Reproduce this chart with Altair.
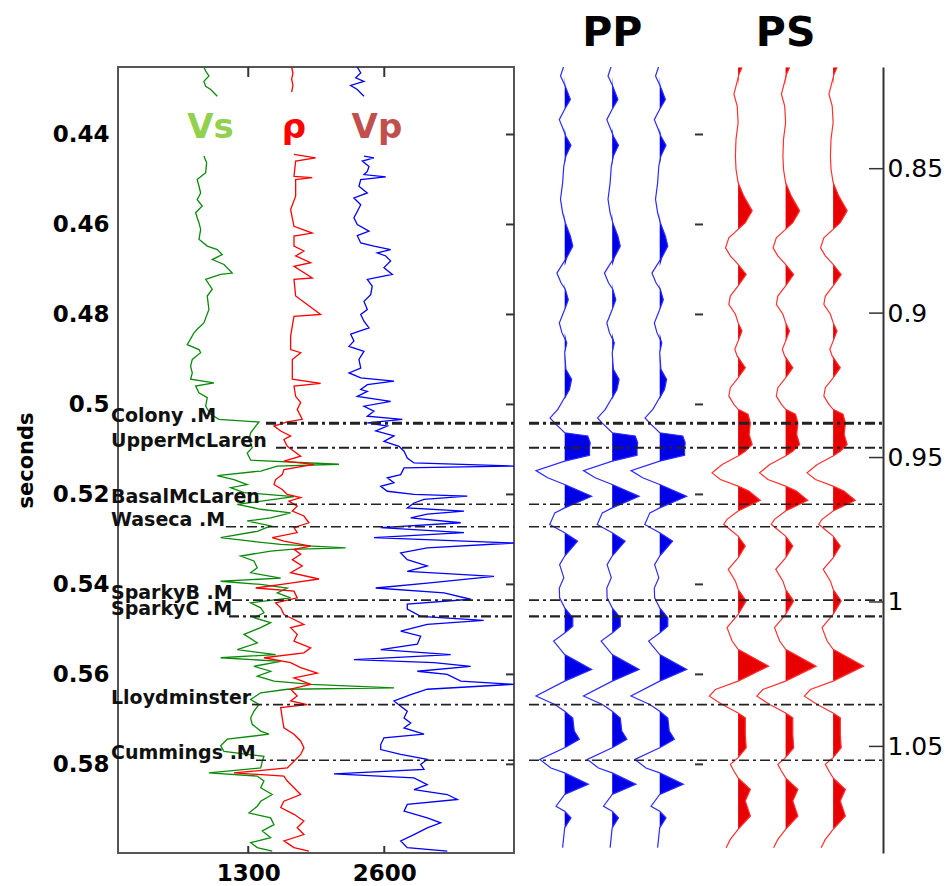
import altair as alt
import pandas as pd

# ---------------- well logs: (two-way time s, plotted value) ----------------
VS_TOP = [(0.4250, 876), (0.4259, 893), (0.4270, 924), (0.4282, 876), (0.4293, 893),
          (0.4300, 941), (0.4315, 1004)]
RHO_TOP = [(0.4250, 1715), (0.4264, 1727), (0.4277, 1715), (0.4291, 1727), (0.4306, 1715)]
VP_TOP = [(0.4250, 2342), (0.4263, 2375), (0.4274, 2327), (0.4282, 2406), (0.4291, 2279),
          (0.4300, 2342), (0.4315, 2406)]

VS = [(0.4448, 876), (0.4463, 902), (0.4485, 893), (0.4500, 812), (0.4515, 829), (0.4530, 845),
      (0.4545, 812), (0.4559, 860), (0.4574, 797), (0.4585, 812), (0.4596, 829), (0.4611, 845),
      (0.4633, 829), (0.4648, 908), (0.4656, 1004), (0.4667, 1051), (0.4678, 956), (0.4689, 1068),
      (0.4708, 1147), (0.4711, 1036), (0.4722, 893), (0.4744, 956), (0.4759, 908), (0.4789, 924),
      (0.4819, 876), (0.4833, 812), (0.4841, 781), (0.4867, 717), (0.4878, 829), (0.4885, 845),
      (0.4900, 765), (0.4915, 749), (0.4930, 765), (0.4944, 749), (0.4952, 972), (0.4959, 797),
      (0.4974, 829), (0.4985, 908), (0.5004, 893), (0.5022, 941), (0.5033, 1020), (0.5039, 1402),
      (0.5048, 1371), (0.5063, 1323), (0.5078, 1307), (0.5096, 1338), (0.5108, 1290),
      (0.5124, 1323), (0.5133, 2167), (0.5137, 1577), (0.5148, 1419), (0.5158, 1004),
      (0.5167, 1163), (0.5178, 1290), (0.5185, 1132), (0.5196, 1259), (0.5205, 1737),
      (0.5211, 1546), (0.5222, 1195), (0.5233, 1419), (0.5241, 1705), (0.5252, 1514),
      (0.5259, 1290), (0.5270, 1514), (0.5282, 1386), (0.5296, 1036), (0.5304, 1323),
      (0.5311, 1610), (0.5319, 2231), (0.5322, 1705), (0.5326, 1514), (0.5337, 1227),
      (0.5348, 1354), (0.5363, 1386), (0.5374, 1323), (0.5386, 1610), (0.5393, 1036),
      (0.5400, 1419), (0.5408, 1673), (0.5419, 1577), (0.5430, 1705), (0.5441, 1323),
      (0.5452, 1419), (0.5463, 1450), (0.5474, 1354), (0.5485, 1514), (0.5496, 1419),
      (0.5511, 1259), (0.5530, 1386), (0.5545, 1195), (0.5556, 1562), (0.5563, 1036),
      (0.5571, 1610), (0.5582, 1354), (0.5593, 1514), (0.5604, 1386), (0.5615, 1546),
      (0.5622, 1897), (0.5630, 2693), (0.5633, 1673), (0.5641, 1419), (0.5656, 1323),
      (0.5667, 1402), (0.5682, 1354), (0.5697, 1323), (0.5711, 1338), (0.5726, 1419),
      (0.5733, 1498), (0.5744, 1099), (0.5759, 1036), (0.5771, 1068), (0.5782, 1450),
      (0.5793, 1434), (0.5808, 1419), (0.5819, 924), (0.5826, 1386), (0.5837, 1450),
      (0.5852, 1419), (0.5867, 1529), (0.5882, 1419), (0.5893, 1386), (0.5908, 1307),
      (0.5919, 1514), (0.5934, 1546), (0.5948, 1434), (0.5963, 1514), (0.5974, 1323),
      (0.5985, 1386), (0.5993, 1529)]

RHO = [(0.4444, 1737), (0.4452, 1944), (0.4459, 1753), (0.4493, 1737), (0.4496, 1912),
       (0.4500, 1753), (0.4537, 1753), (0.4567, 1705), (0.4604, 1737), (0.4619, 1912),
       (0.4626, 1737), (0.4648, 1737), (0.4659, 1832), (0.4670, 1753), (0.4685, 1897),
       (0.4693, 1737), (0.4719, 1912), (0.4722, 1737), (0.4759, 1753), (0.4800, 1992),
       (0.4804, 1737), (0.4848, 1705), (0.4878, 1705), (0.4885, 1801), (0.4900, 1721),
       (0.4944, 1721), (0.4953, 1992), (0.4959, 1737), (0.4982, 1753), (0.4996, 1801),
       (0.5011, 1768), (0.5033, 1816), (0.5039, 1673), (0.5048, 1546), (0.5059, 1610),
       (0.5070, 1705), (0.5078, 1641), (0.5093, 1673), (0.5104, 1737), (0.5115, 1801),
       (0.5126, 1641), (0.5133, 1928), (0.5145, 1641), (0.5156, 1625), (0.5167, 1562),
       (0.5178, 1546), (0.5189, 1625), (0.5200, 1673), (0.5207, 1801), (0.5215, 1689),
       (0.5226, 1768), (0.5237, 1721), (0.5248, 1832), (0.5263, 1880), (0.5274, 1737),
       (0.5285, 1768), (0.5296, 1529), (0.5304, 1641), (0.5315, 1897), (0.5322, 1737),
       (0.5333, 1801), (0.5345, 1721), (0.5359, 1816), (0.5374, 1705), (0.5388, 1976),
       (0.5397, 1705), (0.5408, 1371), (0.5415, 1737), (0.5430, 1768), (0.5441, 1562),
       (0.5452, 1610), (0.5467, 1641), (0.5478, 1737), (0.5489, 1832), (0.5496, 1705),
       (0.5511, 1768), (0.5526, 1737), (0.5541, 1897), (0.5552, 1832), (0.5563, 1450),
       (0.5574, 1705), (0.5585, 1801), (0.5597, 1960), (0.5608, 1737), (0.5622, 1897),
       (0.5633, 1705), (0.5648, 1768), (0.5659, 1705), (0.5667, 1864), (0.5674, 1610),
       (0.5697, 1625), (0.5719, 1641), (0.5733, 1737), (0.5748, 1801), (0.5763, 1832),
       (0.5778, 1801), (0.5793, 1737), (0.5808, 1673), (0.5819, 1163), (0.5826, 1641),
       (0.5837, 1673), (0.5852, 1737), (0.5867, 1801), (0.5882, 1641), (0.5896, 1610),
       (0.5911, 1737), (0.5926, 1832), (0.5941, 1768), (0.5956, 1832), (0.5970, 1641),
       (0.5985, 1737), (0.5993, 1880)]

VP = [(0.4448, 2406), (0.4452, 2501), (0.4459, 2390), (0.4471, 2454), (0.4482, 2438),
      (0.4489, 2406), (0.4494, 2614), (0.4500, 2375), (0.4515, 2358), (0.4530, 2438),
      (0.4541, 2310), (0.4556, 2375), (0.4571, 2342), (0.4585, 2310), (0.4600, 2342),
      (0.4615, 2454), (0.4625, 2342), (0.4641, 2375), (0.4648, 2501), (0.4656, 2661),
      (0.4663, 2533), (0.4670, 2614), (0.4681, 2661), (0.4696, 2597), (0.4711, 2677),
      (0.4722, 2438), (0.4737, 2485), (0.4756, 2470), (0.4771, 2406), (0.4789, 2438),
      (0.4800, 2375), (0.4815, 2406), (0.4830, 2454), (0.4844, 2279), (0.4859, 2310),
      (0.4871, 2263), (0.4882, 2406), (0.4900, 2358), (0.4919, 2375), (0.4930, 2263),
      (0.4941, 2375), (0.4948, 2693), (0.4956, 2438), (0.4967, 2375), (0.4971, 2438),
      (0.4982, 2342), (0.4993, 2661), (0.5004, 2406), (0.5015, 2501), (0.5026, 2438),
      (0.5033, 2772), (0.5041, 2438), (0.5048, 2629), (0.5059, 2518), (0.5070, 2693),
      (0.5082, 2597), (0.5093, 2741), (0.5104, 2789), (0.5119, 2820), (0.5130, 2884),
      (0.5137, 3840), (0.5141, 2789), (0.5156, 2757), (0.5163, 2629), (0.5174, 2693),
      (0.5182, 2566), (0.5193, 2629), (0.5200, 2884), (0.5204, 3394), (0.5211, 2980),
      (0.5219, 2884), (0.5230, 2820), (0.5237, 3362), (0.5244, 3011), (0.5252, 2853),
      (0.5263, 3331), (0.5274, 2566), (0.5285, 3362), (0.5296, 2501), (0.5308, 3840),
      (0.5319, 3011), (0.5330, 2757), (0.5345, 2820), (0.5359, 3011), (0.5371, 2820),
      (0.5382, 3649), (0.5397, 3011), (0.5408, 2518), (0.5419, 3171), (0.5433, 3426),
      (0.5444, 2820), (0.5455, 2820), (0.5471, 2948), (0.5480, 3550), (0.5489, 3011),
      (0.5504, 2757), (0.5515, 2948), (0.5533, 2916), (0.5545, 2566), (0.5556, 3235),
      (0.5567, 2310), (0.5574, 3075), (0.5582, 3426), (0.5593, 2916), (0.5600, 3202),
      (0.5615, 3331), (0.5622, 3840), (0.5633, 3011), (0.5645, 2853), (0.5659, 2693),
      (0.5671, 2757), (0.5682, 2820), (0.5697, 2789), (0.5708, 2853), (0.5719, 2789),
      (0.5733, 2980), (0.5741, 2597), (0.5756, 2566), (0.5767, 2566), (0.5778, 2757),
      (0.5789, 3011), (0.5800, 2948), (0.5811, 2980), (0.5821, 2119), (0.5830, 2884),
      (0.5845, 3011), (0.5856, 2884), (0.5867, 3202), (0.5878, 3298), (0.5889, 2820),
      (0.5904, 2789), (0.5919, 3011), (0.5930, 3139), (0.5941, 3011), (0.5956, 2884),
      (0.5970, 2757), (0.5985, 2820), (0.5993, 3202)]

# ---------------- synthetic traces: (time s, normalised amplitude) ----------------
PP_TRACE = [(0.4248, -0.03), (0.4270, -0.14), (0.4293, 0.02), (0.4322, 0.19), (0.4344, 0.0),
            (0.4367, -0.18), (0.4385, -0.07), (0.4404, 0.04), (0.4424, 0.21), (0.4448, 0.04),
            (0.4470, -0.03), (0.4508, -0.07), (0.4544, -0.14), (0.4574, -0.07), (0.4596, 0.02),
            (0.4626, 0.19), (0.4648, 0.27), (0.4670, 0.10), (0.4693, -0.12), (0.4708, -0.26),
            (0.4730, -0.12), (0.4744, 0.02), (0.4767, 0.12), (0.4789, 0.0), (0.4819, -0.18),
            (0.4841, -0.09), (0.4863, 0.07), (0.4885, 0.0), (0.4922, 0.04), (0.4944, 0.23),
            (0.4967, 0.16), (0.4989, -0.04), (0.5011, -0.23), (0.5030, -0.49), (0.5041, -0.34),
            (0.5063, 0.0), (0.5070, 0.77), (0.5085, 0.85), (0.5100, 0.83), (0.5113, 0.83),
            (0.5126, 0.0), (0.5147, -0.96), (0.5163, -0.57), (0.5178, 0.0), (0.5204, 0.90),
            (0.5230, 0.0), (0.5241, -0.33), (0.5267, -0.50), (0.5285, 0.0), (0.5304, 0.43),
            (0.5337, 0.0), (0.5356, -0.17), (0.5385, -0.03), (0.5408, -0.18), (0.5430, -0.17),
            (0.5452, 0.0), (0.5474, 0.27), (0.5493, 0.27), (0.5508, 0.0), (0.5526, -0.37),
            (0.5556, 0.0), (0.5589, 0.90), (0.5615, 0.0), (0.5648, -0.96), (0.5667, -0.33),
            (0.5682, 0.0), (0.5697, 0.27), (0.5726, 0.32), (0.5744, 0.49), (0.5763, 0.0),
            (0.5789, -0.83), (0.5808, -0.46), (0.5819, 0.0), (0.5844, 0.79), (0.5867, 0.0),
            (0.5893, -0.29), (0.5904, 0.0), (0.5919, 0.21), (0.5941, 0.0), (0.5985, -0.07)]

PS_TRACE = [(0.8150, 0.13), (0.8173, 0.03), (0.8214, -0.07), (0.8242, -0.14), (0.8283, -0.03),
            (0.8341, 0.0), (0.8398, -0.07), (0.8456, -0.09), (0.8502, -0.07), (0.8548, 0.0),
            (0.8595, 0.19), (0.8646, 0.47), (0.8687, 0.24), (0.8710, 0.0), (0.8739, -0.31),
            (0.8774, -0.42), (0.8802, -0.26), (0.8831, 0.0), (0.8866, 0.27), (0.8906, 0.0),
            (0.8941, -0.26), (0.8970, -0.31), (0.9004, -0.09), (0.9033, 0.0), (0.9062, 0.13),
            (0.9097, 0.0), (0.9125, -0.11), (0.9149, -0.03), (0.9189, 0.24), (0.9224, 0.0),
            (0.9258, -0.26), (0.9287, -0.31), (0.9316, -0.14), (0.9333, 0.0), (0.9350, 0.33),
            (0.9380, 0.41), (0.9420, 0.37), (0.9455, 0.47), (0.9478, 0.24), (0.9495, 0.0),
            (0.9524, -0.53), (0.9553, -0.87), (0.9576, -0.59), (0.9599, 0.0), (0.9616, 0.36),
            (0.9648, 0.74), (0.9685, 0.0), (0.9714, -0.37), (0.9731, -0.48), (0.9755, -0.20),
            (0.9772, 0.0), (0.9806, 0.24), (0.9847, 0.0), (0.9887, -0.33), (0.9928, -0.09),
            (0.9956, 0.0), (0.9997, 0.27), (1.0043, 0.0), (1.0089, -0.37), (1.0135, -0.20),
            (1.0164, 0.0), (1.0222, 1.02), (1.0274, 0.0), (1.0303, -0.76), (1.0326, -0.96),
            (1.0355, -0.53), (1.0384, 0.0), (1.0401, 0.24), (1.0459, 0.24), (1.0505, 0.27),
            (1.0539, 0.0), (1.0562, -0.26), (1.0585, -0.14), (1.0609, 0.0), (1.0649, 0.41),
            (1.0689, 0.24), (1.0741, 0.41), (1.0787, 0.0), (1.0822, -0.26), (1.0851, -0.40)]

# ---------------- formation tops (PP time) ----------------
TOP_NAMES = ["Colony .M", "UpperMcLaren", "BasalMcLaren", "Waseca .M",
             "SparkyB .M", "SparkyC .M", "Lloydminster", "Cummings .M"]
TOP_TIMES = [0.5042, 0.5096, 0.5222, 0.5272, 0.5435, 0.5471, 0.5667, 0.5791]

PP_TICKS = [0.44, 0.46, 0.48, 0.50, 0.52, 0.54, 0.56, 0.58]
PS_TICKS = [0.85, 0.90, 0.95, 1.00, 1.05]
LOG_TICKS = [1300, 2600]

LOG_NAMES = ["Vs", "ρ", "Vp"]
LOG_NAME_POS = [940, 1737, 2530]

# ---------------- layout constants ----------------
LOG_W, SEIS_W, H = 396, 365, 786
PP_DOMAIN = [0.425, 0.5997]
PS_DOMAIN = [0.8148, 1.0869]
LOG_DOMAIN = [55, 3840]
TRACE_DOMAIN = [0.017, 7.70]
PP_OFFSETS = [1.0, 2.0, 3.0]
PS_OFFSETS = [4.65, 5.65, 6.65]
GAIN = 0.63
# pixel where each dashed top line begins (just past its label)
LINE_START = [148, 158, 148, 108, 114, 111, 134, 138]
LINE_WIDTH = [3.0, 2.0, 1.6, 1.6, 1.8, 2.2, 1.8, 1.6]
DASH = [10, 4, 3, 4]
FONT = "DejaVu Sans"

# ---------------- tables ----------------
def log_rows(samples, name, seg):
    return [dict(t=t, v=v, log=name, seg=f"{name}-{seg}", i=k) for k, (t, v) in enumerate(samples)]

log_df = pd.DataFrame(
    log_rows(VS_TOP, "Vs", 0) + log_rows(VS, "Vs", 1)
    + log_rows(RHO_TOP, "rho", 0) + log_rows(RHO, "rho", 1)
    + log_rows(VP_TOP, "Vp", 0) + log_rows(VP, "Vp", 1)
)


def trace_table(samples, offsets, kind):
    rows = []
    for n, base in enumerate(offsets):
        for k, (t, a) in enumerate(samples):
            rows.append(dict(trace=f"{kind}{n}", t=t, i=k, base=base,
                             x=base + a * GAIN, xpos=base + max(a, 0.0) * GAIN))
    return pd.DataFrame(rows)

pp_df = trace_table(PP_TRACE, PP_OFFSETS, "pp")
ps_df = trace_table(PS_TRACE, PS_OFFSETS, "ps")

tops_df = pd.DataFrame(dict(name=TOP_NAMES, t=TOP_TIMES, x0=LINE_START, w=LINE_WIDTH))
pp_ticks_df = pd.DataFrame(dict(t=PP_TICKS))
ps_ticks_df = pd.DataFrame(dict(t=PS_TICKS))
log_ticks_df = pd.DataFrame(dict(v=LOG_TICKS))
names_df = pd.DataFrame(dict(name=LOG_NAMES, v=LOG_NAME_POS, t=[0.4407] * 3,
                             c=["#92d050", "#ff0000", "#c0504d"]))
titles_df = pd.DataFrame(dict(name=["PP", "PS"], x=[PP_OFFSETS[1], PS_OFFSETS[1]]))

# ---------------- scales and axes ----------------
pp_y = alt.Scale(domain=PP_DOMAIN, reverse=True, nice=False, zero=False)
ps_y = alt.Scale(domain=PS_DOMAIN, reverse=True, nice=False, zero=False)
log_x = alt.Scale(domain=LOG_DOMAIN, nice=False, zero=False)
trace_x = alt.Scale(domain=TRACE_DOMAIN, nice=False, zero=False)

x_axis = alt.Axis(
    values=LOG_TICKS, format="d", title="", ticks=False, domain=False, grid=False,
    labelFont=FONT, labelFontWeight="bold", labelFontSize=23, labelColor="#000",
    labelPadding=9)
y_axis = alt.Axis(
    values=PP_TICKS, format=".2~f", title="seconds", ticks=False, domain=False, grid=False,
    labelFont=FONT, labelFontWeight="bold", labelFontSize=23, labelColor="#000",
    labelPadding=9, titleFont=FONT, titleFontWeight="bold", titleFontSize=21,
    titleColor="#000", titlePadding=16)

X_LOG = alt.X("v:Q", scale=log_x, axis=x_axis)
Y_PP = alt.Y("t:Q", scale=pp_y, axis=y_axis)

# ---------------- log panel ----------------
log_lines = alt.Chart(log_df).mark_line(strokeWidth=1.3, clip=True).encode(
    x=X_LOG, y=Y_PP,
    color=alt.Color("log:N", scale=alt.Scale(domain=["Vs", "rho", "Vp"],
                                             range=["#0a8a0a", "#ff0000", "#0000ff"]),
                    legend=None),
    detail="seg:N",
    order="i:Q",
)

top_ticks = alt.Chart(log_ticks_df).mark_rule(color="#333", strokeWidth=2).encode(
    x=X_LOG, y=alt.value(0), y2=alt.value(10))
bottom_ticks = alt.Chart(log_ticks_df).mark_rule(color="#333", strokeWidth=2).encode(
    x=X_LOG, y=alt.value(H - 7), y2=alt.value(H))
right_ticks = alt.Chart(pp_ticks_df).mark_rule(color="#333", strokeWidth=2).encode(
    y=Y_PP, x=alt.value(LOG_W - 8), x2=alt.value(LOG_W))

log_tops = alt.Chart(tops_df).mark_rule(color="#222", strokeDash=DASH).encode(
    x=alt.X("x0:Q", scale=None), x2=alt.value(LOG_W),
    y=Y_PP,
    strokeWidth=alt.StrokeWidth("w:Q", scale=None))

top_labels = alt.Chart(tops_df).mark_text(
    align="left", baseline="alphabetic", dy=-1, font=FONT, fontWeight="bold",
    fontSize=19, color="#111").encode(
    x=alt.value(-7), y=Y_PP, text="name:N")

log_labels = alt.Chart(names_df).mark_text(
    align="center", baseline="alphabetic", font=FONT, fontWeight="bold", fontSize=34).encode(
    x=X_LOG, y=Y_PP, text="name:N", color=alt.Color("c:N", scale=None))

log_panel = alt.layer(
    log_lines, top_ticks, bottom_ticks, right_ticks, log_tops, top_labels, log_labels
).properties(width=LOG_W, height=H,
             view=alt.ViewBackground(stroke="#555", strokeWidth=2))

# ---------------- synthetic panel ----------------
pp_fill = alt.Chart(pp_df).mark_area(orient="horizontal", color="#0000e8", clip=True).encode(
    y=alt.Y("t:Q", scale=pp_y, axis=None),
    x=alt.X("xpos:Q", scale=trace_x, axis=None), x2="base:Q", detail="trace:N")
pp_line = alt.Chart(pp_df).mark_line(color="#2a2aff", strokeWidth=1.2, clip=True).encode(
    y=alt.Y("t:Q", scale=pp_y, axis=None),
    x=alt.X("x:Q", scale=trace_x, axis=None), detail="trace:N", order="i:Q")

ps_fill = alt.Chart(ps_df).mark_area(orient="horizontal", color="#e80000", clip=True).encode(
    y=alt.Y("t:Q", scale=ps_y, axis=None),
    x=alt.X("xpos:Q", scale=trace_x, axis=None), x2="base:Q", detail="trace:N")
ps_line = alt.Chart(ps_df).mark_line(color="#ff3030", strokeWidth=1.2, clip=True).encode(
    y=alt.Y("t:Q", scale=ps_y, axis=alt.Axis(
        orient="right", values=PS_TICKS, format=".2~f", title="", ticks=False,
        domain=True, domainColor="#333", domainWidth=2, grid=False,
        labelFont=FONT, labelFontSize=25, labelColor="#000", labelPadding=4)),
    x=alt.X("x:Q", scale=trace_x, axis=None), detail="trace:N", order="i:Q")

seis_tops = alt.Chart(tops_df).mark_rule(color="#222", strokeDash=DASH).encode(
    x=alt.value(11), x2=alt.value(SEIS_W),
    y=alt.Y("t:Q", scale=pp_y, axis=None),
    strokeWidth=alt.StrokeWidth("w:Q", scale=None))

pp_side_ticks = alt.Chart(pp_ticks_df).mark_rule(color="#333", strokeWidth=2).encode(
    y=alt.Y("t:Q", scale=pp_y, axis=None), x=alt.value(177), x2=alt.value(185))
ps_side_ticks = alt.Chart(ps_ticks_df).mark_rule(color="#333", strokeWidth=1.5).encode(
    y=alt.Y("t:Q", scale=ps_y, axis=None), x=alt.value(SEIS_W - 14), x2=alt.value(SEIS_W))

titles = alt.Chart(titles_df).mark_text(
    align="center", baseline="alphabetic", font=FONT, fontWeight="bold", fontSize=41,
    color="#000").encode(
    x=alt.X("x:Q", scale=trace_x, axis=None), y=alt.value(-21), text="name:N")

seis_panel = alt.layer(
    pp_fill, pp_line, ps_fill, ps_line, seis_tops, pp_side_ticks, ps_side_ticks, titles
).resolve_scale(y="independent").properties(width=SEIS_W, height=H)

chart = alt.hconcat(log_panel, seis_panel, spacing=0).properties(
    padding={"left": 14, "top": 12, "right": 0, "bottom": 0},
    background="white",
).configure_view(stroke="transparent")

chart.save("out.html", embed_options={"renderer": "svg", "actions": False})
